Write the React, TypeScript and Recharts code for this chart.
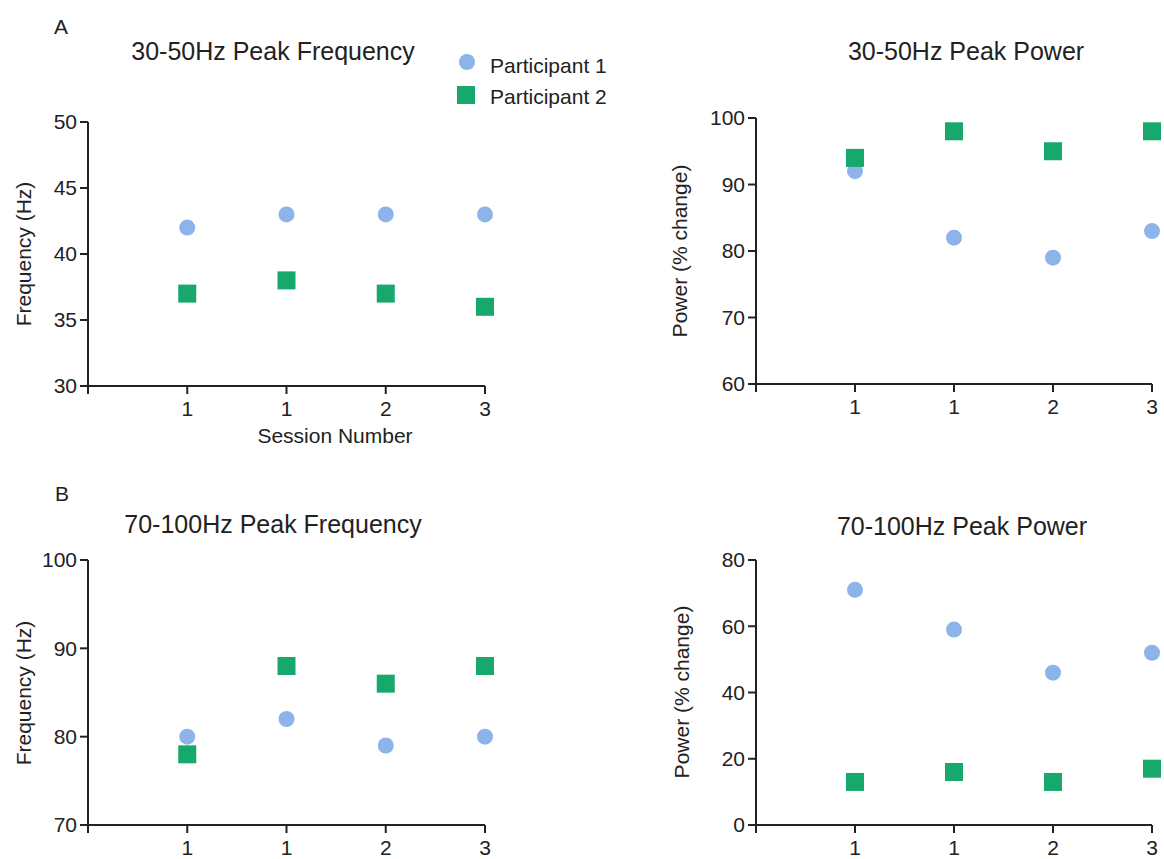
import React from "react";
import { ScatterChart, Scatter, XAxis, YAxis } from "recharts";

// ---- data ----
const sessionPositions = [1, 2, 3, 4];
const sessionLabels = ["1", "1", "2", "3"];

const gammaLowFreqP1 = [42, 43, 43, 43];
const gammaLowFreqP2 = [37, 38, 37, 36];
const gammaLowPowerP1 = [92, 82, 79, 83];
const gammaLowPowerP2 = [94, 98, 95, 98];
const gammaHighFreqP1 = [80, 82, 79, 80];
const gammaHighFreqP2 = [78, 88, 86, 88];
const gammaHighPowerP1 = [71, 59, 46, 52];
const gammaHighPowerP2 = [13, 16, 13, 17];

const ticksLowFreq = [30, 35, 40, 45, 50];
const ticksLowPower = [60, 70, 80, 90, 100];
const ticksHighFreq = [70, 80, 90, 100];
const ticksHighPower = [0, 20, 40, 60, 80];

const seriesNames = ["Participant 1", "Participant 2"];

// ---- styles ----
const BLUE = "#8DB4EA";
const GREEN = "#16A96B";
const AXIS = "#222222";
const FONT = "'Liberation Sans', Arial, sans-serif";

const toPoints = (vals: number[]) =>
  sessionPositions.map((x, i) => ({ x, y: vals[i] }));

const CircleShape = (props: any) => (
  <circle cx={props.cx} cy={props.cy} r={8} fill={BLUE} />
);
const SquareShape = (props: any) => (
  <rect x={props.cx - 9} y={props.cy - 9} width={18} height={18} fill={GREEN} />
);

type PanelProps = {
  plotLeft: number;
  plotTop: number;
  plotRight: number;
  plotBottom: number;
  yDomain: [number, number];
  yTicks: number[];
  p1: number[];
  p2: number[];
};

function Panel({ plotLeft, plotTop, plotRight, plotBottom, yDomain, yTicks, p1, p2 }: PanelProps) {
  const yAxisW = 90;
  const mTop = 20;
  const mRight = 12;
  const xAxisH = 40;
  const mBottom = 10;
  const width = plotRight - plotLeft + yAxisW + mRight;
  const height = plotBottom - plotTop + mTop + xAxisH + mBottom;
  const tickStyle = { fontSize: 21, fill: AXIS, fontFamily: FONT };
  return (
    <div style={{ position: "absolute", left: plotLeft - yAxisW, top: plotTop - mTop }}>
      <ScatterChart
        width={width}
        height={height}
        margin={{ top: mTop, right: mRight, bottom: mBottom, left: 0 }}
      >
        <XAxis
          type="number"
          dataKey="x"
          domain={[0, 4]}
          ticks={[0, 1, 2, 3, 4]}
          interval={0}
          tickFormatter={(v: number) => (v === 0 ? "" : sessionLabels[v - 1])}
          height={xAxisH}
          axisLine={{ stroke: AXIS, strokeWidth: 2 }}
          tickLine={{ stroke: AXIS, strokeWidth: 2 }}
          tickSize={8}
          tickMargin={7}
          tick={tickStyle}
        />
        <YAxis
          type="number"
          dataKey="y"
          domain={yDomain}
          ticks={yTicks}
          interval={0}
          width={yAxisW}
          axisLine={{ stroke: AXIS, strokeWidth: 2 }}
          tickLine={{ stroke: AXIS, strokeWidth: 2 }}
          tickSize={8}
          tickMargin={3}
          tick={tickStyle}
        />
        <Scatter name={seriesNames[0]} data={toPoints(p1)} shape={CircleShape} isAnimationActive={false} />
        <Scatter name={seriesNames[1]} data={toPoints(p2)} shape={SquareShape} isAnimationActive={false} />
      </ScatterChart>
    </div>
  );
}

const CenterText = ({ x, y, size, children, rotate }: any) => (
  <div
    style={{
      position: "absolute",
      left: x,
      top: y,
      transform: `translate(-50%, -50%)${rotate ? " rotate(-90deg)" : ""}`,
      fontSize: size,
      lineHeight: 1,
      whiteSpace: "nowrap",
      color: AXIS,
      fontFamily: FONT,
    }}
  >
    {children}
  </div>
);

export default function App() {
  return (
    <div
      style={{
        position: "absolute",
        left: 0,
        top: 0,
        width: 1164,
        height: 859,
        background: "#fff",
        overflow: "hidden",
        fontFamily: FONT,
      }}
    >
      {/* Panel letters */}
      <CenterText x={61} y={26} size={21}>A</CenterText>
      <CenterText x={62} y={493} size={21}>B</CenterText>

      {/* Titles */}
      <CenterText x={273} y={51} size={25}>30-50Hz Peak Frequency</CenterText>
      <CenterText x={966} y={51} size={25}>30-50Hz Peak Power</CenterText>
      <CenterText x={273} y={524} size={25}>70-100Hz Peak Frequency</CenterText>
      <CenterText x={962} y={526} size={25}>70-100Hz Peak Power</CenterText>

      {/* Legend */}
      <div style={{ position: "absolute", left: 459, top: 54, width: 16, height: 16, borderRadius: 8, background: BLUE }} />
      <div style={{ position: "absolute", left: 457, top: 86, width: 18, height: 18, background: GREEN }} />
      <div style={{ position: "absolute", left: 490, top: 55, fontSize: 21, lineHeight: 1, color: AXIS, whiteSpace: "nowrap" }}>
        {seriesNames[0]}
      </div>
      <div style={{ position: "absolute", left: 490, top: 86, fontSize: 21, lineHeight: 1, color: AXIS, whiteSpace: "nowrap" }}>
        {seriesNames[1]}
      </div>

      {/* Y-axis labels */}
      <CenterText x={23} y={254} size={21} rotate>Frequency (Hz)</CenterText>
      <CenterText x={679} y={251} size={21} rotate>Power (% change)</CenterText>
      <CenterText x={23} y={693} size={21} rotate>Frequency (Hz)</CenterText>
      <CenterText x={681} y={692} size={21} rotate>Power (% change)</CenterText>

      {/* X-axis label */}
      <CenterText x={335} y={435} size={21}>Session Number</CenterText>

      <Panel plotLeft={88} plotRight={485} plotTop={122} plotBottom={386} yDomain={[30, 50]} yTicks={ticksLowFreq} p1={gammaLowFreqP1} p2={gammaLowFreqP2} />
      <Panel plotLeft={756} plotRight={1152} plotTop={118} plotBottom={384} yDomain={[60, 100]} yTicks={ticksLowPower} p1={gammaLowPowerP1} p2={gammaLowPowerP2} />
      <Panel plotLeft={88} plotRight={485} plotTop={560} plotBottom={825} yDomain={[70, 100]} yTicks={ticksHighFreq} p1={gammaHighFreqP1} p2={gammaHighFreqP2} />
      <Panel plotLeft={756} plotRight={1152} plotTop={560} plotBottom={825} yDomain={[0, 80]} yTicks={ticksHighPower} p1={gammaHighPowerP1} p2={gammaHighPowerP2} />
    </div>
  );
}
